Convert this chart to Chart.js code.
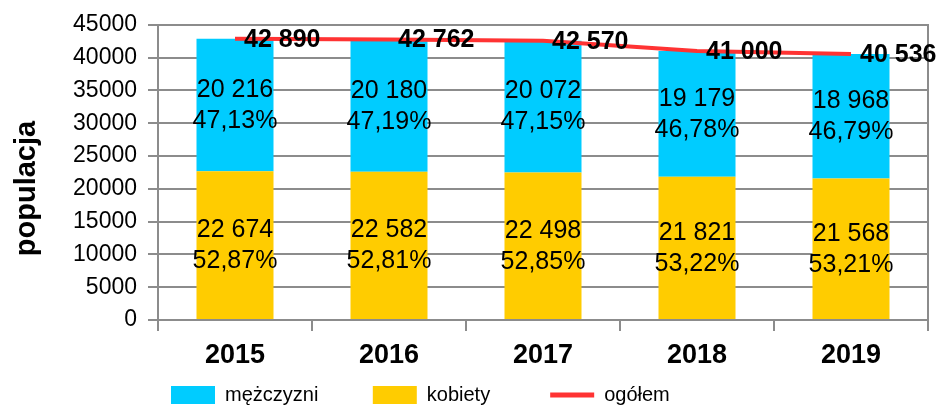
<!DOCTYPE html>
<html>
<head>
<meta charset="utf-8">
<script src="https://cdn.jsdelivr.net/npm/chart.js@4"></script>
<style>
  body { margin: 0; background: #fff; }
</style>
</head>
<body>
<canvas id="myChart" width="940" height="405"></canvas>
<script>
// data
const years = ['2015', '2016', '2017', '2018', '2019'];
const kobiety = [22674, 22582, 22498, 21821, 21568];
const mezczyzni = [20216, 20180, 20072, 19179, 18968];
const ogolem = [42890, 42762, 42570, 41000, 40536];
const kobietyPct = ['52,87%', '52,81%', '52,85%', '53,22%', '53,21%'];
const mezczyzniPct = ['47,13%', '47,19%', '47,15%', '46,78%', '46,79%'];
const yTicks = [0, 45000, 5000]; // min, max, step

const FONT = "'Liberation Sans', Arial, sans-serif";
const GRID = '#8c8c8c';

// 20216 -> "20 216"
function fmt(v) {
  return String(v).replace(/\B(?=(\d{3})+(?!\d))/g, ' ');
}

// simple label plugin (no datalabels plugin available offline)
const labelPlugin = {
  id: 'labels',
  afterDatasetsDraw(chart) {
    const ctx = chart.ctx;
    ctx.save();
    ctx.fillStyle = '#000';
    chart.data.datasets.forEach((ds, i) => {
      const meta = chart.getDatasetMeta(i);
      meta.data.forEach((el, j) => {
        if (ds.type === 'line') {
          ctx.font = 'bold 25px ' + FONT;
          ctx.textAlign = 'left';
          ctx.textBaseline = 'middle';
          ctx.fillText(fmt(ds.data[j]), el.x + 9, el.y + 1);
        } else {
          const cy = (el.y + el.base) / 2;
          ctx.font = '25px ' + FONT;
          ctx.textAlign = 'center';
          ctx.textBaseline = 'middle';
          ctx.fillText(fmt(ds.data[j]), el.x, cy - 15);
          ctx.fillText(ds.pct[j], el.x, cy + 16);
        }
      });
    });
    ctx.restore();
  }
};

// move legend to where it sits in the picture
const legendPlace = {
  id: 'legendPlace',
  afterLayout(chart) {
    chart.legend.left = 161;
    chart.legend.top = 375;
  }
};

const legendRank = { 1: 0, 0: 1, 2: 2 };
const legendGap = { 1: '        ', 0: '         ', 2: '' };

const myChart = new Chart(document.getElementById('myChart'), {
  type: 'bar',
  data: {
    labels: years,
    datasets: [{
      label: 'kobiety',
      data: kobiety,
      pct: kobietyPct,
      backgroundColor: '#FFCC00',
      barPercentage: 0.5,
      categoryPercentage: 1
    }, {
      label: 'mężczyzni',
      data: mezczyzni,
      pct: mezczyzniPct,
      backgroundColor: '#00CCFF',
      barPercentage: 0.5,
      categoryPercentage: 1
    }, {
      type: 'line',
      label: 'ogółem',
      data: ogolem,
      stack: 'total',
      order: -1,
      borderColor: '#FF3333',
      backgroundColor: '#FF3333',
      borderWidth: 4,
      pointRadius: 0,
      tension: 0
    }]
  },
  options: {
    responsive: false,
    devicePixelRatio: 1,
    animation: false,
    layout: { padding: { left: 0, right: 12, top: 23, bottom: 0 } },
    plugins: {
      tooltip: { enabled: false },
      legend: {
        position: 'bottom',
        align: 'start',
        labels: {
          usePointStyle: true,
          pointStyleWidth: 44,
          boxWidth: 44,
          boxHeight: 18,
          padding: 10,
          color: '#000',
          font: { family: FONT, size: 20 },
          sort: (a, b) => legendRank[a.datasetIndex] - legendRank[b.datasetIndex],
          generateLabels(chart) {
            const items = Chart.defaults.plugins.legend.labels.generateLabels(chart);
            items.forEach(it => {
              const ds = chart.data.datasets[it.datasetIndex];
              it.text = ds.label + legendGap[it.datasetIndex];
              if (ds.type === 'line') {
                it.pointStyle = 'line';
                it.lineWidth = 5;
                it.strokeStyle = '#FF3333';
              } else {
                it.pointStyle = 'rect';
                it.lineWidth = 0;
              }
            });
            return items;
          }
        }
      }
    },
    scales: {
      x: {
        stacked: true,
        grid: {
          offset: true,
          drawOnChartArea: false,
          tickLength: 11,
          color: GRID,
          lineWidth: 2
        },
        border: { color: GRID, width: 2 },
        ticks: {
          color: '#000',
          padding: 8,
          font: { family: FONT, size: 27, weight: 'bold' }
        },
        afterFit(scale) { scale.height = 45; }
      },
      y: {
        stacked: true,
        min: yTicks[0],
        max: yTicks[1],
        grid: { color: GRID, lineWidth: 2, tickLength: 10 },
        border: { color: GRID, width: 2 },
        ticks: {
          stepSize: yTicks[2],
          color: '#000',
          padding: 11,
          font: { family: FONT, size: 23 },
          callback: v => String(v)
        },
        title: {
          display: true,
          text: 'populacja    ',
          color: '#000',
          padding: { top: 10, bottom: 0 },
          font: { family: FONT, size: 29, weight: 'bold' }
        },
        afterFit(scale) { scale.width = 158; }
      },
      y2: {
        position: 'right',
        display: true,
        min: 0,
        max: 1,
        grid: { drawOnChartArea: false, drawTicks: false },
        ticks: { display: false },
        border: { color: GRID, width: 2 },
        afterFit(scale) { scale.width = 0; }
      }
    }
  },
  plugins: [labelPlugin, legendPlace]
});
</script>
</body>
</html>
